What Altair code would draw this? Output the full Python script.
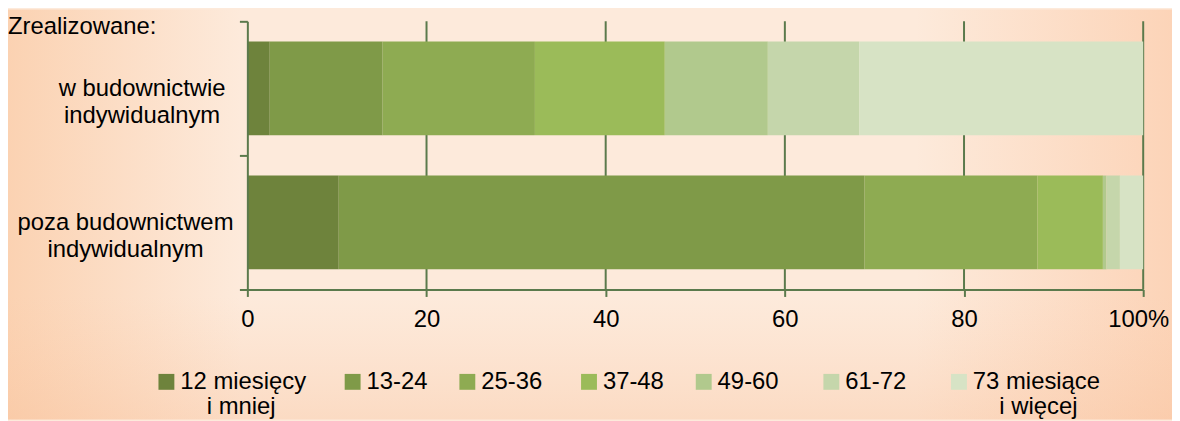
import json
import altair as alt
import pandas as pd

# ---- data ----
categories = ["w budownictwie indywidualnym", "poza budownictwem indywidualnym"]
category_lines = [["w budownictwie", "indywidualnym"], ["poza budownictwem", "indywidualnym"]]
periods = ["12 miesięcy i mniej", "13-24", "25-36", "37-48", "49-60", "61-72", "73 miesiące i więcej"]
period_lines = [["12 miesięcy", "i mniej"], ["13-24"], ["25-36"], ["37-48"], ["49-60"], ["61-72"],
                ["73 miesiące", "i więcej"]]
share_individual = [2.5, 12.6, 17.0, 14.5, 11.5, 10.2, 31.7]
share_other = [10.2, 58.7, 19.3, 7.3, 0.4, 1.5, 2.6]
x_ticks = [0, 20, 40, 60, 80, 100]
grid_values = [20, 40, 60, 80, 100]

# ---- styles ----
colors = ["#6e833c", "#7f9a48", "#8eab52", "#9bbb59", "#b1c98d", "#c5d6ab", "#d7e3c5"]
GREEN = "#5b7a4c"
FONT = "Liberation Sans"
FS = 24
NB = "\u00a0"   # no-break space (used for small text offsets)
ZW = "\u200b"   # zero-width space, keeps the no-break spaces from being trimmed

rows = []
for cat, vals in zip(categories, [share_individual, share_other]):
    for i, (p, v) in enumerate(zip(periods, vals)):
        rows.append({"category": cat, "period": p, "share": v, "idx": i})
df = pd.DataFrame(rows)
grid_df = pd.DataFrame({"g": grid_values})


def js(s):
    return json.dumps(s, ensure_ascii=False)


# y-axis labels (multi-line, centred); second label padded to shift its centre left
y_pads = [0, 5]
y_expr = ""
for cat, lines, pad in zip(categories, category_lines, y_pads):
    arr = "[" + ",".join(js(l + (NB * pad + ZW if pad else "")) for l in lines) + "]"
    y_expr += f"datum.value == {js(cat)} ? {arr} : "
y_expr += "datum.label"

# legend labels: two lines each, first line aligned with the symbol, second line indented;
# trailing no-break spaces reproduce the uneven spacing of the entries
legend_trail = [1, 0, 1, 0, 2, 2, 0]
l_expr = ""
for p, lines, t in zip(periods, period_lines, legend_trail):
    first = lines[0] + (NB * t + ZW if t else "")
    second = ZW + NB * 4 + lines[1] if len(lines) == 2 else ZW + NB + ZW
    l_expr += f"datum.label == {js(p)} ? [{js(first)},{js(second)}] : "
l_expr += "datum.label"

x_label_expr = "datum.value == 100 ? '100%' : datum.label"

bg_gradient = {
    "gradient": "linear", "x1": 0, "y1": 0, "x2": 1, "y2": 0,
    "stops": [
        {"offset": 0.0, "color": "#fbd2b2"},
        {"offset": 0.2, "color": "#fdeadb"},
        {"offset": 0.78, "color": "#fdeadb"},
        {"offset": 1.0, "color": "#fcd4b8"},
    ],
}
bg_shade = {
    "gradient": "linear", "x1": 0, "y1": 0, "x2": 0, "y2": 1,
    "stops": [
        {"offset": 0.0, "color": "rgba(250,200,165,0)"},
        {"offset": 0.7, "color": "rgba(250,200,165,0)"},
        {"offset": 1.0, "color": "rgba(248,190,150,0.35)"},
    ],
}

W, H = 902, 270
PAD = {"left": 241, "top": 12, "right": 29, "bottom": 131}

x_scale = alt.Scale(domain=[0, 100], nice=False)

background = alt.Chart(alt.Data(values=[{}])).mark_rect(fill=bg_gradient).encode(
    x=alt.value(-PAD["left"]), x2=alt.value(W + PAD["right"]),
    y=alt.value(-PAD["top"]), y2=alt.value(H + PAD["bottom"]),
)
shade = alt.Chart(alt.Data(values=[{}])).mark_rect(fill=bg_shade).encode(
    x=alt.value(-PAD["left"]), x2=alt.value(W + PAD["right"]),
    y=alt.value(-PAD["top"]), y2=alt.value(H + PAD["bottom"]),
)

grid = alt.Chart(grid_df).mark_rule(color=GREEN, strokeWidth=2).encode(
    x=alt.X("g:Q", scale=x_scale, title=None)
)

bars = alt.Chart(df).mark_bar(height=alt.RelativeBandSize(band=0.7)).encode(
    x=alt.X("share:Q", stack="zero", scale=x_scale,
            axis=alt.Axis(values=x_ticks, title=None, grid=False,
                          labelExpr=x_label_expr,
                          labelOffset={"condition": {"test": "datum.value == 100", "value": -5},
                                       "value": 0},
                          domainColor=GREEN, domainWidth=2,
                          tickColor=GREEN, tickWidth=2, tickSize=7,
                          labelFont=FONT, labelFontSize=FS, labelColor="#000000",
                          labelBaseline="alphabetic", labelPadding=30,
                          labelFlush=False, labelOverlap=False, zindex=1)),
    y=alt.Y("category:N", sort=categories,
            scale=alt.Scale(paddingInner=0, paddingOuter=0),
            axis=alt.Axis(title=None, labelExpr=y_expr, labelAlign="center",
                          labelBaseline="middle", labelPadding=98.5,
                          labelFont=FONT, labelFontSize=FS, labelColor="#000000",
                          labelLineHeight=27, labelLimit=0,
                          tickSize=8, tickWidth=2, tickColor=GREEN, tickBand="extent",
                          domainColor=GREEN, domainWidth=2, zindex=1)),
    color=alt.Color("period:N", scale=alt.Scale(domain=periods, range=colors),
                    legend=alt.Legend(orient="none", legendX=-93.5, legendY=351,
                                      direction="horizontal", columns=7, title=None,
                                      symbolType="square", symbolSize=256,
                                      symbolStrokeWidth=0, labelFont=FONT,
                                      labelFontSize=FS, labelColor="#000000",
                                      labelExpr=l_expr, labelOffset=2,
                                      labelBaseline="middle",
                                      columnPadding=27.5, padding=0, labelLimit=0)),
    order=alt.Order("idx:Q"),
)

chart = alt.layer(background, shade, grid, bars).properties(
    width=W, height=H,
    padding=PAD,
    autosize=alt.AutoSizeParams(type="none"),
    title=alt.TitleParams("Zrealizowane:", anchor="start", frame="group", orient="top",
                          dx=-241, dy=49, offset=0, baseline="alphabetic",
                          font=FONT, fontSize=FS, fontWeight="normal", color="#000000"),
).configure(
    font=FONT, background="#fdeadb",
    style={"guide-label": {"lineHeight": 25}},
).configure_view(stroke=None)

chart.save("out.html", embed_options={"renderer": "svg", "actions": False})
